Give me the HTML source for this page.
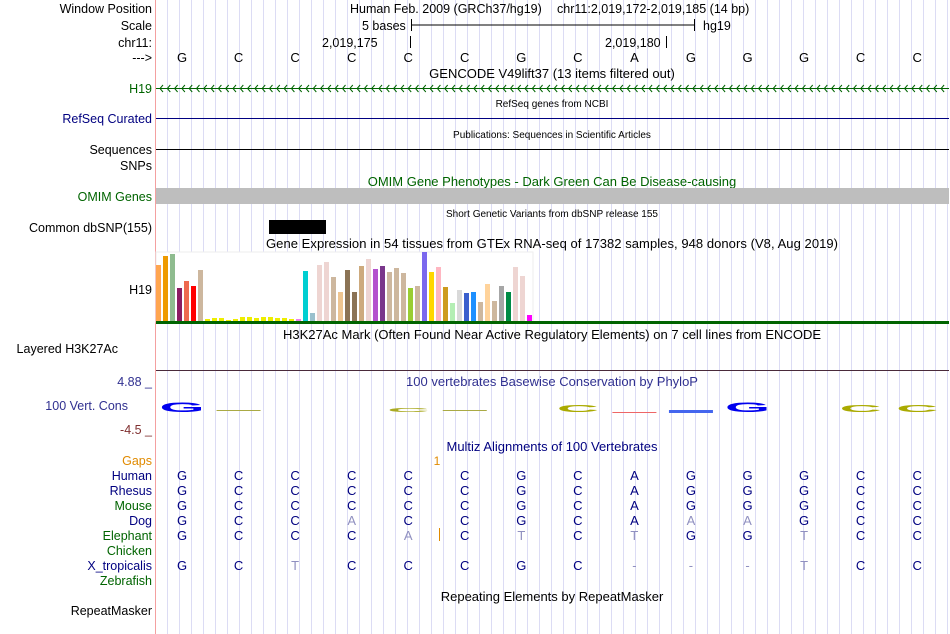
<!DOCTYPE html>
<html><head><meta charset="utf-8"><style>
body{margin:0;width:950px;height:634px;background:#fff;overflow:hidden;font-family:"Liberation Sans",sans-serif;}
svg{position:absolute;left:0;top:0}
text{font-family:"Liberation Sans",sans-serif}
</style></head><body>
<svg id="s" width="950" height="634">
<g id="grid"></g>
<line x1="155.5" y1="0" x2="155.5" y2="634" stroke="#f4a0a0"/>
<g font-size="12.5" text-anchor="end">
<text x="152" y="13" fill="#000">Window Position</text>
<text x="152" y="30" fill="#000">Scale</text>
<text x="152" y="47" fill="#000">chr11:</text>
<text x="152" y="62" fill="#000">---&gt;</text>
<text x="152" y="93" fill="#006400">H19</text>
<text x="152" y="123" fill="#000080">RefSeq Curated</text>
<text x="152" y="154" fill="#000">Sequences</text>
<text x="152" y="170" fill="#000">SNPs</text>
<text x="152" y="201" fill="#006400">OMIM Genes</text>
<text x="152" y="232" fill="#000">Common dbSNP(155)</text>
<text x="152" y="294" fill="#000">H19</text>
<text x="118" y="353" fill="#000">Layered H3K27Ac</text>
<text x="152" y="386" fill="#303090">4.88 _</text>
<text x="128" y="410" fill="#303090">100 Vert. Cons</text>
<text x="152" y="434" fill="#803030">-4.5 _</text>
<text x="152" y="465" fill="#e08a00">Gaps</text>
<text x="152" y="480" fill="#000080">Human</text>
<text x="152" y="495" fill="#000080">Rhesus</text>
<text x="152" y="510" fill="#006400">Mouse</text>
<text x="152" y="525" fill="#000080">Dog</text>
<text x="152" y="540" fill="#006400">Elephant</text>
<text x="152" y="555" fill="#006400">Chicken</text>
<text x="152" y="570" fill="#000080">X_tropicalis</text>
<text x="152" y="585" fill="#006400">Zebrafish</text>
<text x="152" y="615" fill="#000">RepeatMasker</text>
</g>
<g font-size="12.5" fill="#000">
<text x="350" y="13">Human Feb. 2009 (GRCh37/hg19)</text>
<text x="557" y="13">chr11:2,019,172-2,019,185 (14 bp)</text>
<text x="362" y="30">5 bases</text>
<line x1="411.5" y1="19" x2="411.5" y2="31" stroke="#000"/><line x1="411" y1="25" x2="694" y2="25" stroke="#000"/><line x1="694.5" y1="19" x2="694.5" y2="31" stroke="#000"/>
<text x="703" y="30">hg19</text>
<text x="322" y="47">2,019,175</text>
<line x1="410.5" y1="36" x2="410.5" y2="48" stroke="#000"/>
<text x="605" y="47">2,019,180</text>
<line x1="666.5" y1="36" x2="666.5" y2="48" stroke="#000"/>
</g>
<g id="bases" font-size="13" text-anchor="middle"></g>
<g text-anchor="middle" font-size="13">
<text x="552" y="78">GENCODE V49lift37 (13 items filtered out)</text>
<text x="552" y="107" font-size="10">RefSeq genes from NCBI</text>
<text x="552" y="138" font-size="10">Publications: Sequences in Scientific Articles</text>
<text x="552" y="186" fill="#006400">OMIM Gene Phenotypes - Dark Green Can Be Disease-causing</text>
<text x="552" y="217" font-size="10">Short Genetic Variants from dbSNP release 155</text>
<text x="552" y="248" textLength="572">Gene Expression in 54 tissues from GTEx RNA-seq of 17382 samples, 948 donors (V8, Aug 2019)</text>
<text x="552" y="339" textLength="538">H3K27Ac Mark (Often Found Near Active Regulatory Elements) on 7 cell lines from ENCODE</text>
<text x="552" y="386" fill="#303090">100 vertebrates Basewise Conservation by PhyloP</text>
<text x="552" y="451" fill="#000080">Multiz Alignments of 100 Vertebrates</text>
<text x="552" y="601">Repeating Elements by RepeatMasker</text>
</g>
<g id="h19"><line x1="156" y1="88.5" x2="949" y2="88.5" stroke="#006400"/></g>
<line x1="156" y1="118.5" x2="949" y2="118.5" stroke="#000080"/>
<line x1="156" y1="149.5" x2="949" y2="149.5" stroke="#000"/>
<rect x="156" y="188" width="793" height="16" fill="#bebebe"/>
<rect x="269" y="220" width="57" height="14" fill="#000"/>
<rect x="156" y="252" width="377" height="70" fill="#fff" stroke="#eee"/>
<g id="gtex"></g>
<rect x="156" y="321" width="793" height="3" fill="#006400"/>
<line x1="156" y1="370.5" x2="949" y2="370.5" stroke="#4a2a3a"/>
<g id="cons"></g>
<text x="437" y="465" font-size="12" fill="#e08a00" text-anchor="middle">1</text>
<line x1="439.5" y1="528" x2="439.5" y2="541" stroke="#e08a00"/>
<g id="aln" font-size="13" text-anchor="middle"></g>
</svg>
<script>
const NS='http://www.w3.org/2000/svg';
function mk(t,a,p){const e=document.createElementNS(NS,t);for(const k in a)e.setAttribute(k,a[k]);p.appendChild(e);return e;}
const grid=document.getElementById('grid');
for(let x=167.5;x<950;x+=12){const l=mk('line',{x1:x,y1:0,x2:x,y2:634,stroke:'#dcdcf4'},grid);

}
const refBases="GCCCCCGCAGGGCC".split('');
const bx=i=>182+i*56.55;
const bg=document.getElementById('bases');
refBases.forEach((b,i)=>{const t=mk('text',{x:bx(i),y:62},bg);t.textContent=b;

});
const h=document.getElementById('h19');
for(let x=160;x<948;x+=7.3){mk('path',{d:`M${x+3},85 L${x},88.5 L${x+3},92`,stroke:'#006400',fill:'none'},h);}
// GTEx
const gtexValues=[56,65,67,33,40,35,51,2,3,3,1,2,4,4,3,4,4,3,3,2,2,50,8,56,59,44,29,51,29,55,62,52,55,49,53,48,33,35,69,49,54,34,18,31,28,29,19,37,20,35,29,54,45,6];
const gtexColors=['#FFA54F','#EE9A00','#8FBC8F','#8B1C62','#EE6A50','#FF0000','#CDB79E','#EEEE00','#EEEE00','#EEEE00','#EEEE00','#EEEE00','#EEEE00','#EEEE00','#EEEE00','#EEEE00','#EEEE00','#EEEE00','#EEEE00','#EEEE00','#EE82EE','#00CED1','#9AC0CD','#EED5D2','#EED5D2','#CDB79E','#EEC591','#8B7355','#8B7355','#CDAA7D','#EED5D2','#B452CD','#7A378B','#CDB79E','#CDB79E','#CDB79E','#9ACD32','#CDB79E','#7B68EE','#FFD700','#FFB6C1','#CD9B1D','#B4EEB4','#D9D9D9','#3A5FCD','#1E90FF','#CDB79E','#FFD39B','#CDB79E','#A6A6A6','#008B45','#EED5D2','#EED5D2','#FF00FF'];
const gx=i=>156+i*7, gy=v=>321-v;
const gg=document.getElementById('gtex');
gtexValues.forEach((v,i)=>{const r=mk('rect',{x:gx(i),y:gy(v),width:5,height:321-gy(v),fill:gtexColors[i]},gg);

});
// conservation logos
const consBases=['G','-','','','C','-','','C','-','-','G','','C','C'];
const consColors=['#0000ee','#aaaa44','','','#aaaa22','#aaaa44','','#aaaa00','#ee6666','#4466ee','#0000ee','','#aaaa00','#aaaa00'];
const consHeights=[10,1,0,0,4,1,0,7,1,3,10,0,7,7];
const cg=document.getElementById('cons');
consBases.forEach((b,i)=>{if(!b)return;
 if(b==='-'){const r=mk('rect',{x:bx(i)-22,y:i===8?412:410,width:44,height:consHeights[i],fill:consColors[i]},cg);
 return;}
 const t=mk('text',{x:0,y:0,'font-size':40,'font-weight':'bold','text-anchor':'middle',fill:consColors[i],transform:`translate(${bx(i)},412) scale(1.45,${consHeights[i]/29})`},cg);
 t.textContent=b;
 
 });
// alignments (lowercase = light/mismatch)
const alnRows=[["GCCCCCGCAGGGCC",480],["GCCCCCGCAGGGCC",495],["GCCCCCGCAGGGCC",510],["GCCaCCGCAaaGCC",525],["GCCCaCtCtGGtCC",540],["GCtCCCGC---tCC",570]];
const ag=document.getElementById('aln');
alnRows.forEach(([s,y])=>{s.split('').forEach((c,i)=>{const light=(c!==c.toUpperCase())||c==='-';
 const t=mk('text',{x:bx(i),y:y,fill:light?'#9090c0':'#000080'},ag);t.textContent=c.toUpperCase();
 
 });});
</script>
</body></html>
